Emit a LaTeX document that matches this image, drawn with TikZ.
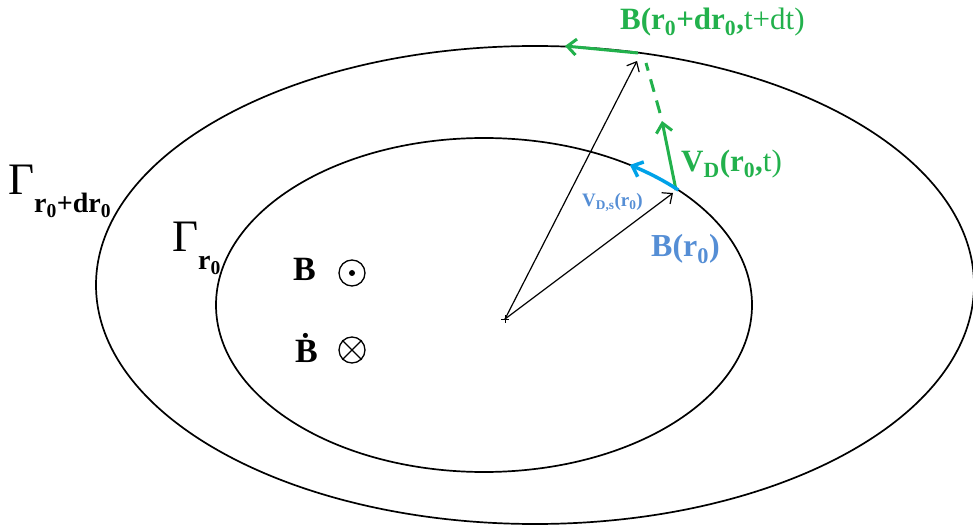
\documentclass[tikz,border=0pt]{standalone}
\usepackage{fontspec}
\setmainfont{Liberation Serif}
\usetikzlibrary{arrows.meta,calc}
\definecolor{fgreen}{RGB}{34,177,76}
\definecolor{fblue}{RGB}{0,162,232}
\definecolor{lblue}{RGB}{85,142,213}
\newcommand{\rnull}{r\textsubscript{0}}

\begin{document}
\begin{tikzpicture}[x=1pt,y=-1pt,
    contour/.style={line width=1.7pt},
    radius/.style={line width=1.2pt,-{Straight Barb[length=8pt,width=14pt]}},
    vel/.style={line width=3pt,-{Straight Barb[length=9pt,width=16pt]}},
    lbl/.style={anchor=base west,inner sep=0pt}]
  \useasboundingbox (0,0) rectangle (973,526);
  % Contours
  \draw[contour] (535,285) ellipse [x radius=439pt, y radius=239pt];
  \draw[contour] (484,305) ellipse [x radius=268pt, y radius=167pt];
  \node[lbl,font=\fontsize{45}{45}\selectfont] (gouter) at (8,195) {Γ\raisebox{-0.4em}{\fontsize{28}{28}\selectfont\bfseries \rnull+d\rnull}};
  \node[lbl,font=\fontsize{45}{45}\selectfont] (ginner) at (172,252) {Γ\raisebox{-0.4em}{\fontsize{28}{28}\selectfont\bfseries \rnull}};
  % Points
  \coordinate (O) at (505,319);
  \coordinate (P) at (676,190);
  \coordinate (Q) at (638,53);
  \coordinate (Vtip) at (662,121);
  \coordinate (Qtip) at (565,46);
  \draw[line width=0.8pt] ($(O)+(-4,0)$) -- ($(O)+(4,0)$) ($(O)+(0,-4)$) -- ($(O)+(0,4)$);
  % Radius vectors
  \draw[radius] (O) -- ($(Q)+(-1,8)$);
  \draw[radius] (O) -- ($(P)+(-3,3)$);
  % Drift velocity
  \draw[vel,fgreen] (P) -- (Vtip);
  \draw[fgreen,line width=3pt,dash pattern=on 13pt off 9pt] ($(Vtip)+(-2,-8)$) -- ($(Q)+(8,10)$);
  \draw[vel,fgreen] (Q) -- (Qtip);
  \draw[vel,fblue,line width=3.5pt] plot[domain=-43.5:-57,samples=12,smooth] ({484+268*cos(\x)},{305+167*sin(\x)});
  % Labels
  \node[lbl,fgreen,font=\fontsize{31}{31}\selectfont] (lq) at (620,30) {\textbf{B(\rnull+d\rnull,}t+dt)};
  \node[lbl,fgreen,font=\fontsize{31}{31}\selectfont] (lv) at (681,172) {\textbf{V\textsubscript{D}(\rnull,}t)};
  \node[lbl,lblue,font=\fontsize{19}{19}\selectfont\bfseries] (lvs) at (582,207) {V\textsubscript{D,s}(\rnull)};
  \node[lbl,lblue,font=\fontsize{32}{32}\selectfont\bfseries] (lp) at (651,257) {B(\rnull)};
  % Field
  \node[lbl,font=\fontsize{34}{34}\selectfont\bfseries] (bfield) at (293,280) {B};
  \node[lbl,font=\fontsize{34}{34}\selectfont\bfseries] (bdot) at (295,362) {\.B};
  \node[circle,draw,line width=1.3pt,minimum size=26pt,inner sep=0pt] (out) at (352,273) {};
  \fill (out.center) circle (3);
  \node[circle,draw,line width=1.3pt,minimum size=26pt,inner sep=0pt] (in) at (352,350) {};
  \draw[line width=1.3pt] (in.45) -- (in.225) (in.135) -- (in.315);
\end{tikzpicture}
\end{document}
